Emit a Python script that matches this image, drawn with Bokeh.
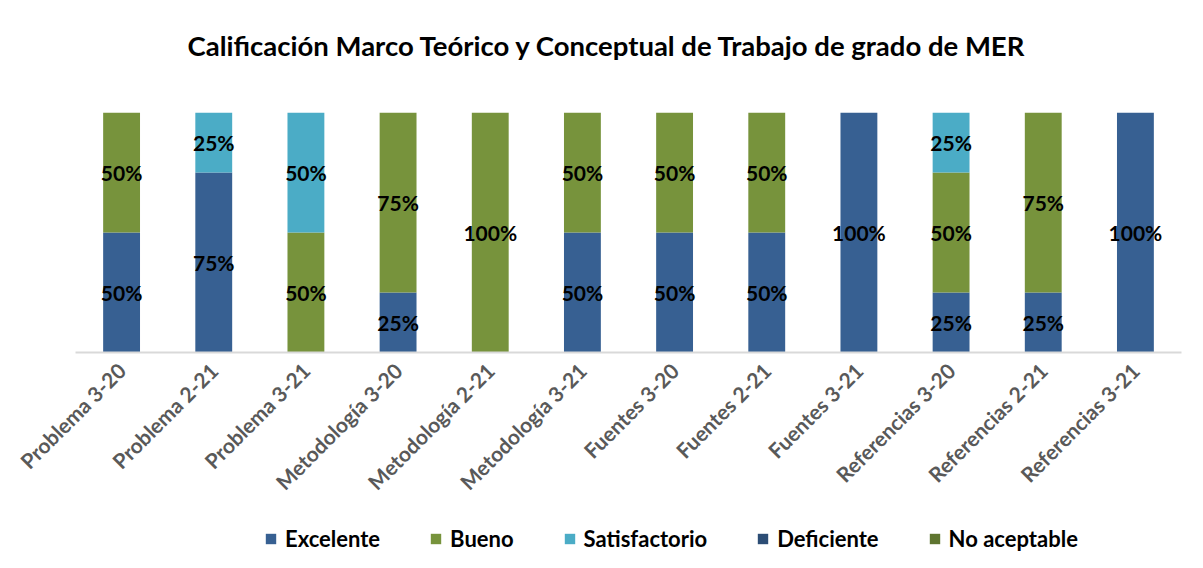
import math
from bokeh.plotting import figure
from bokeh.layouts import column
from bokeh.models import ColumnDataSource, FactorRange, Range1d, Legend, LegendItem
from bokeh.core.properties import value
from bokeh.embed import file_html
from bokeh.resources import INLINE

title_text = "Calificación Marco Teórico y Conceptual de Trabajo de grado de MER"
categories = ["Problema 3-20", "Problema 2-21", "Problema 3-21", "Metodología 3-20",
              "Metodología 2-21", "Metodología 3-21", "Fuentes 3-20", "Fuentes 2-21",
              "Fuentes 3-21", "Referencias 3-20", "Referencias 2-21", "Referencias 3-21"]
series_names = ["Excelente", "Bueno", "Satisfactorio", "Deficiente", "No aceptable"]
excelente = [0.50, 0.75, 0.00, 0.25, 0.00, 0.50, 0.50, 0.50, 1.00, 0.25, 0.25, 1.00]
bueno = [0.50, 0.00, 0.50, 0.75, 1.00, 0.50, 0.50, 0.50, 0.00, 0.50, 0.75, 0.00]
satisfactorio = [0.00, 0.25, 0.50, 0.00, 0.00, 0.00, 0.00, 0.00, 0.00, 0.25, 0.00, 0.00]
deficiente = [0.0] * 12
no_aceptable = [0.0] * 12
colors = ["#376092", "#77933C", "#4BACC6", "#2C4D75", "#5F7530"]

FONT = "Lato"
W = 1187
series_vals = [excelente, bueno, satisfactorio, deficiente, no_aceptable]
data = {"cat": categories}
for n, v in zip(series_names, series_vals):
    data[n] = v
src = ColumnDataSource(data)

# title strip (its frame is aligned with the main chart's frame: pixels 75..1181)
p0 = figure(x_range=Range1d(75, 1181), y_range=Range1d(0, 80), width=W, height=80,
            output_backend="svg", toolbar_location=None,
            x_axis_location=None, y_axis_location=None,
            min_border_left=0, min_border_right=0, min_border_top=0, min_border_bottom=0)
p0.grid.visible = False
p0.outline_line_color = None
p0.text(x=[607], y=[35], text=[title_text], text_align="center", text_baseline="middle",
        text_font=value(FONT), text_font_style="bold", text_font_size="27.5px",
        text_color="#000000")

# main chart
p = figure(x_range=FactorRange(*categories), y_range=Range1d(0, 1),
           width=W, height=435, output_backend="svg", toolbar_location=None,
           min_border_left=75, min_border_right=6, min_border_top=32,
           min_border_bottom=163)

renderers = p.vbar_stack(series_names, x="cat", width=0.4, source=src,
                         color=colors, line_color=None)

lx, ly, lt = [], [], []
for i, c in enumerate(categories):
    base = 0.0
    for v in series_vals:
        if v[i] > 0:
            lx.append(c)
            ly.append(base + v[i] / 2)
            lt.append(f"{round(v[i]*100)}%")
        base += v[i]
p.text(x=lx, y=ly, text=lt, text_align="center", text_baseline="middle",
       text_font=value(FONT), text_font_style="bold", text_font_size="21px",
       text_color="#000000")

p.yaxis.visible = False
p.xgrid.visible = False
p.ygrid.visible = False
p.outline_line_color = None
p.xaxis.axis_line_color = "#D9D9D9"
p.xaxis.axis_line_width = 2
p.xaxis.major_tick_line_color = None
p.xaxis.minor_tick_line_color = None
p.xaxis.major_label_orientation = math.pi / 4
p.xaxis.major_label_text_font = FONT
p.xaxis.major_label_text_font_style = "bold"
p.xaxis.major_label_text_font_size = "21px"
p.xaxis.major_label_text_color = "#595959"
p.xaxis.major_label_standoff = 8

# legend strip (key bars are drawn out of view, only used as legend swatches)
p2 = figure(x_range=FactorRange(*categories), y_range=Range1d(10, 11),
            width=W, height=37, output_backend="svg", toolbar_location=None,
            x_axis_location=None, y_axis_location=None,
            min_border_left=0, min_border_right=0, min_border_top=0, min_border_bottom=0)
p2.grid.visible = False
p2.outline_line_color = None
keys = p2.vbar_stack(series_names, x="cat", width=0.4, source=src,
                     color=colors, line_color=None)
legend = Legend(items=[LegendItem(label=n, renderers=[r]) for n, r in zip(series_names, keys)],
                orientation="horizontal", location=(189, 0),
                label_text_font=FONT, label_text_font_style="bold",
                label_text_font_size="22px", label_text_color="#000000",
                glyph_width=13, glyph_height=13, spacing=49, label_standoff=8,
                padding=0, margin=0,
                border_line_color=None, background_fill_alpha=0)
p2.add_layout(legend, "center")

layout = column(p0, p, p2, spacing=0)
open("out.html", "w").write(file_html(layout, INLINE))
